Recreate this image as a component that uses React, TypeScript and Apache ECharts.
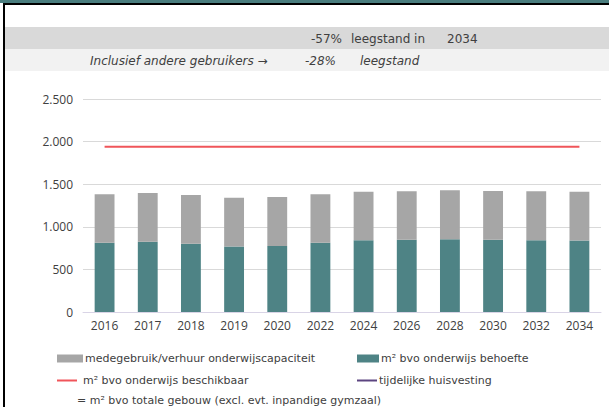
import React, { useEffect, useRef } from "react";
import * as echarts from "echarts";

const years = ["2016", "2017", "2018", "2019", "2020", "2022", "2024", "2026", "2028", "2030", "2032", "2034"];
const behoefte = [812, 824, 800, 769, 776, 812, 843, 847, 855, 847, 843, 839];
const medegebruik = [569, 572, 573, 572, 573, 569, 569, 569, 573, 573, 573, 573];
const beschikbaar = [1940, 1940, 1940, 1940, 1940, 1940, 1940, 1940, 1940, 1940, 1940, 1940];
const tijdelijk: (number | null)[] = [];

const FONT = "Open Sans";
const WIDE = "DejaVu Sans";
const TXT = "#404040";

export default function App() {
  const ref = useRef<HTMLDivElement>(null);
  useEffect(() => {
    document.body.style.margin = "0";
    document.body.style.overflow = "hidden";
    if (!ref.current) return;
    const chart = echarts.init(ref.current, null, { renderer: "svg" });
    const legText = { color: TXT, fontSize: 11, fontFamily: WIDE };
    chart.setOption({
      animation: false,
      backgroundColor: "#ffffff",
      textStyle: { fontFamily: FONT },
      grid: { left: 83, right: 8, top: 99, bottom: 95, containLabel: false },
      xAxis: {
        type: "category",
        data: years,
        axisLine: { lineStyle: { color: "#d9d4e6", width: 1 } },
        axisTick: { show: false },
        axisLabel: { color: TXT, fontSize: 12, margin: 7, fontFamily: FONT },
      },
      yAxis: {
        type: "value",
        min: 0,
        max: 2500,
        interval: 500,
        axisLabel: {
          color: TXT,
          fontSize: 12,
          margin: 10,
          fontFamily: FONT,
          formatter: (v: number) => (v >= 1000 ? Math.floor(v / 1000) + "." + String(v % 1000).padStart(3, "0") : String(v)),
        },
        splitLine: { lineStyle: { color: "#d9d9d9", width: 1 } },
      },
      legend: [
        {
          data: ["medegebruik/verhuur onderwijscapaciteit"],
          left: 52, top: 348, itemWidth: 26, itemHeight: 8, itemGap: 2, icon: "rect",
          textStyle: { ...legText, padding: [0, 0, 0, -3] },
        },
        {
          data: ["m² bvo onderwijs behoefte"],
          left: 352, top: 348, itemWidth: 22, itemHeight: 8, icon: "rect",
          textStyle: { ...legText, padding: [0, 0, 0, -3] },
        },
        {
          data: ["m² bvo onderwijs beschikbaar"],
          left: 52, top: 370, itemWidth: 20, itemHeight: 2, icon: "rect",
          textStyle: { ...legText, padding: [0, 0, 0, 1] },
        },
        {
          data: ["tijdelijke huisvesting"],
          left: 352, top: 370, itemWidth: 20, itemHeight: 2, icon: "rect",
          textStyle: { ...legText, padding: [0, 0, 0, -3] },
        },
      ],
      graphic: [
        { type: "rect", x: 0, y: 0, shape: { x: 0, y: 0, width: 609, height: 3 }, style: { fill: "#4a7d7e" }, silent: true },
        { type: "rect", x: 0, y: 0, shape: { x: 3, y: 3, width: 606, height: 2 }, style: { fill: "#000000" }, silent: true },
        { type: "rect", x: 0, y: 0, shape: { x: 3, y: 3, width: 2, height: 404 }, style: { fill: "#000000" }, silent: true },
        { type: "rect", x: 0, y: 0, shape: { x: 5, y: 27, width: 604, height: 22 }, style: { fill: "#d9d9d9" }, silent: true },
        { type: "rect", x: 0, y: 0, shape: { x: 5, y: 49, width: 604, height: 22 }, style: { fill: "#f2f2f2" }, silent: true },
        { type: "text", x: 311, y: 39, style: { text: "-57%", fill: TXT, font: `12px ${WIDE}`, textVerticalAlign: "middle" } },
        { type: "text", x: 351, y: 39, style: { text: "leegstand in", fill: TXT, font: `12px ${WIDE}`, textVerticalAlign: "middle" } },
        { type: "text", x: 447, y: 39, style: { text: "2034", fill: TXT, font: `12px ${WIDE}`, textVerticalAlign: "middle" } },
        { type: "text", x: 90, y: 61, style: { text: "Inclusief andere gebruikers →", fill: TXT, font: `italic 12px ${WIDE}`, textVerticalAlign: "middle" } },
        { type: "text", x: 305, y: 61, style: { text: "-28%", fill: TXT, font: `italic 12px ${WIDE}`, textVerticalAlign: "middle" } },
        { type: "text", x: 360, y: 61, style: { text: "leegstand", fill: TXT, font: `italic 12px ${WIDE}`, textVerticalAlign: "middle" } },
        { type: "text", x: 77, y: 400, style: { text: "= m² bvo totale gebouw (excl. evt. inpandige gymzaal)", fill: TXT, font: `11px ${WIDE}`, textVerticalAlign: "middle" } },
      ],
      series: [
        {
          name: "m² bvo onderwijs behoefte",
          type: "bar",
          stack: "a",
          data: behoefte,
          barWidth: "46%",
          itemStyle: { color: "#4e8385" },
        },
        {
          name: "medegebruik/verhuur onderwijscapaciteit",
          type: "bar",
          stack: "a",
          data: medegebruik,
          itemStyle: { color: "#a6a6a6" },
        },
        {
          name: "m² bvo onderwijs beschikbaar",
          type: "line",
          data: beschikbaar,
          symbol: "none",
          lineStyle: { color: "#f0555a", width: 2 },
          itemStyle: { color: "#f0555a" },
        },
        {
          name: "tijdelijke huisvesting",
          type: "line",
          data: tijdelijk,
          symbol: "none",
          lineStyle: { color: "#5c4580", width: 2 },
          itemStyle: { color: "#5c4580" },
        },
      ],
    });
    return () => chart.dispose();
  }, []);
  return <div ref={ref} style={{ position: "absolute", left: 0, top: 0, width: 609, height: 407 }} />;
}
